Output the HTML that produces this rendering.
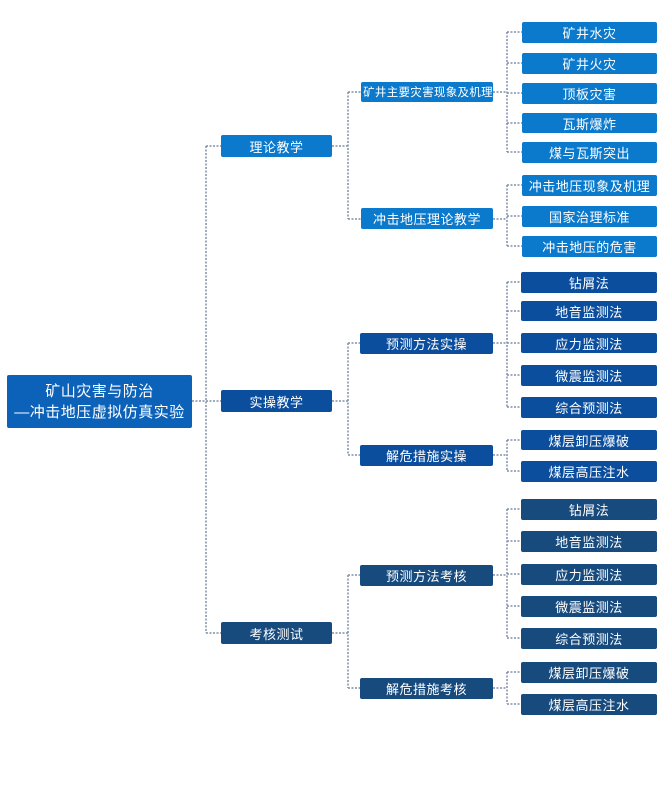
<!DOCTYPE html>
<html><head><meta charset="utf-8"><style>
body{margin:0;width:665px;height:803px;background:#fff;position:relative;overflow:hidden;font-family:"Liberation Sans","Noto Sans CJK SC",sans-serif}
.b{position:absolute;color:#fff;font-size:13px;display:flex;align-items:center;justify-content:center;border-radius:2px;white-space:nowrap;letter-spacing:0.5px}
.t{background:#0b79cc}.m{background:#0c4e9e}.k{background:#174a7d}
svg{position:absolute;left:0;top:0}
</style></head><body>
<svg width="665" height="803"><g stroke="#7f8fa6" stroke-width="1.5" stroke-dasharray="2,1.5" fill="none">
<path d="M192 401H206M206 146V633M206 146H221M206 401H221M206 633H221"/>
<path d="M332 146H348M348 92V219M348 92H361M348 219H361"/>
<path d="M332 401H348M348 343V455M348 343H360M348 455H360"/>
<path d="M332 633H348M348 575V688M348 575H360M348 688H360"/>
<path d="M493 92H507M507 32V152M507 32H522M507 63H522M507 93H522M507 123H522M507 152H522"/>
<path d="M493 219H507M507 185V246M507 185H522M507 216H522M507 246H522"/>
<path d="M493 343H507M507 282V407M507 282H522M507 311H522M507 343H522M507 375H522M507 407H522"/>
<path d="M493 455H507M507 440V471M507 440H522M507 471H522"/>
<path d="M493 575H507M507 509V638M507 509H522M507 541H522M507 574H522M507 606H522M507 638H522"/>
<path d="M493 688H507M507 672V704M507 672H522M507 704H522"/>
</g></svg>
<div class="b" style="left:7px;top:375px;width:185px;height:53px;background:#0c62b8;font-size:15px;line-height:21px;flex-direction:column">矿山灾害与防治<span>—冲击地压虚拟仿真实验</span></div>
<div class="b t" style="left:221px;top:135px;width:111px;height:22px">理论教学</div>
<div class="b m" style="left:221px;top:390px;width:111px;height:22px">实操教学</div>
<div class="b k" style="left:221px;top:622px;width:111px;height:22px">考核测试</div>
<div class="b t" style="left:361px;top:82px;width:132px;height:20px;font-size:11.5px;letter-spacing:0.3px;padding-left:2px;box-sizing:border-box">矿井主要灾害现象及机理</div>
<div class="b t" style="left:361px;top:208px;width:132px;height:21px">冲击地压理论教学</div>
<div class="b m" style="left:360px;top:333px;width:133px;height:21px">预测方法实操</div>
<div class="b m" style="left:360px;top:445px;width:133px;height:21px">解危措施实操</div>
<div class="b k" style="left:360px;top:565px;width:133px;height:21px">预测方法考核</div>
<div class="b k" style="left:360px;top:678px;width:133px;height:21px">解危措施考核</div>
<div class="b t" style="left:522px;top:22px;width:135px;height:21px">矿井水灾</div>
<div class="b t" style="left:522px;top:53px;width:135px;height:21px">矿井火灾</div>
<div class="b t" style="left:522px;top:83px;width:135px;height:21px">顶板灾害</div>
<div class="b t" style="left:522px;top:113px;width:135px;height:20px">瓦斯爆炸</div>
<div class="b t" style="left:522px;top:142px;width:135px;height:21px">煤与瓦斯突出</div>
<div class="b t" style="left:522px;top:175px;width:135px;height:21px">冲击地压现象及机理</div>
<div class="b t" style="left:522px;top:206px;width:135px;height:21px">国家治理标准</div>
<div class="b t" style="left:522px;top:236px;width:135px;height:21px">冲击地压的危害</div>
<div class="b m" style="left:521px;top:272px;width:136px;height:21px">钻屑法</div>
<div class="b m" style="left:521px;top:301px;width:136px;height:20px">地音监测法</div>
<div class="b m" style="left:521px;top:333px;width:136px;height:20px">应力监测法</div>
<div class="b m" style="left:521px;top:365px;width:136px;height:21px">微震监测法</div>
<div class="b m" style="left:521px;top:397px;width:136px;height:21px">综合预测法</div>
<div class="b m" style="left:521px;top:430px;width:136px;height:20px">煤层卸压爆破</div>
<div class="b m" style="left:521px;top:461px;width:136px;height:21px">煤层高压注水</div>
<div class="b k" style="left:521px;top:499px;width:136px;height:21px">钻屑法</div>
<div class="b k" style="left:521px;top:531px;width:136px;height:21px">地音监测法</div>
<div class="b k" style="left:521px;top:564px;width:136px;height:21px">应力监测法</div>
<div class="b k" style="left:521px;top:596px;width:136px;height:21px">微震监测法</div>
<div class="b k" style="left:521px;top:628px;width:136px;height:21px">综合预测法</div>
<div class="b k" style="left:521px;top:662px;width:136px;height:21px">煤层卸压爆破</div>
<div class="b k" style="left:521px;top:694px;width:136px;height:21px">煤层高压注水</div>
</body></html>
